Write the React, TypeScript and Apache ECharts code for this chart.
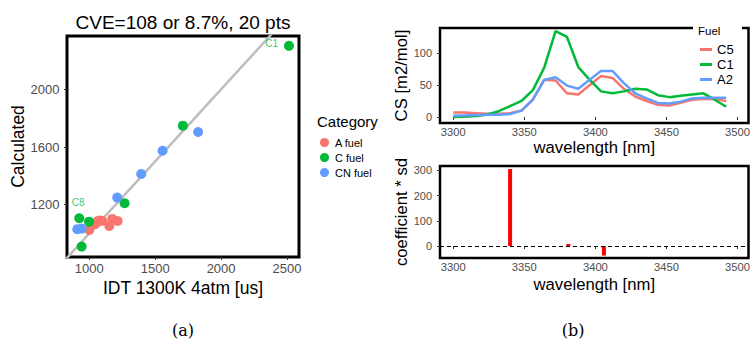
import React, { useEffect, useRef } from "react";
import * as echarts from "echarts";

// (a) scatter: [IDT measured, calculated]
const aFuel: number[][] = [
  [1000, 1025], [1045, 1065], [1062, 1085], [1080, 1090],
  [1098, 1088], [1152, 1052], [1174, 1101], [1215, 1087],
];
const cFuel: number[][] = [
  [2515, 2302], [1710, 1748], [1268, 1210], [924, 1106], [998, 1082], [942, 909],
];
const cnFuel: number[][] = [
  [1826, 1704], [1556, 1574], [1394, 1413], [1212, 1249], [909, 1030], [942, 1034],
];
const pointLabels = [
  { name: "C1", value: [2384, 2321] },
  { name: "C8", value: [915, 1215] },
];
const diagonal: number[][] = [[700, 700], [2700, 2700]];

// (b) top: cross sections
const wavelengths = [
  3300, 3308, 3316, 3324, 3332, 3340, 3348, 3356, 3364, 3372, 3380, 3388, 3396,
  3404, 3412, 3420, 3428, 3436, 3444, 3452, 3460, 3468, 3476, 3484, 3492,
];
const c5 = [7, 7, 6, 5, 5, 6, 10, 27, 58, 57, 37, 35, 50, 64, 61, 44, 32, 25, 19, 18, 22, 27, 28, 28, 25];
const c1 = [0, 0.5, 1.5, 4, 9, 17, 25, 42, 77, 134, 125, 78, 58, 40, 37, 40, 44, 43, 34, 31, 33, 35, 37, 27, 16];
const a2 = [2, 2.5, 3, 3.5, 3.5, 4.5, 10, 27, 58, 62, 49, 44, 58, 72, 72, 53, 37, 29, 22, 21, 24, 29, 30, 30, 30];

// (b) bottom: coefficients
const coefWavelengths = [3340, 3381, 3406];
const coefValues = [305, 8, -38];

const xTicksA = [1000, 1500, 2000, 2500];
const yTicksA = [1200, 1600, 2000];
const xTicksB = [3300, 3350, 3400, 3450, 3500];
const yTicksTop = [0, 50, 100];
const yTicksBottom = [0, 100, 200, 300];

const FONT = "'Liberation Sans', Arial, sans-serif";
const RED = "#F8766D";
const GREEN = "#00BA38";
const BLUE = "#619CFF";

function App() {
  const ref = useRef<HTMLDivElement>(null);
  useEffect(() => {
    document.body.style.margin = "0";
    const chart = echarts.init(ref.current!, undefined, { renderer: "svg" });
    const zip = (xs: number[], ys: number[]) => xs.map((x, i) => [x, ys[i]]);
    const valAxis = (grid: number, min: number, max: number, ticks: number[], name: string, opts: any) => ({
      type: "value",
      gridIndex: grid,
      min,
      max,
      name,
      nameLocation: "middle",
      nameGap: opts.nameGap,
      nameTextStyle: { fontFamily: FONT, fontSize: opts.nameSize, color: "#000", fontWeight: "normal" },
      axisLine: { show: false },
      splitLine: { show: false },
      axisTick: { show: true, length: 3, customValues: ticks, lineStyle: { color: "#333", width: 1 } },
      axisLabel: {
        customValues: ticks,
        formatter: (v: number) => String(v),
        fontFamily: FONT,
        fontSize: opts.labelSize,
        color: "#4D4D4D",
        margin: opts.margin,
      },
    });
    chart.setOption({
      animation: false,
      textStyle: { fontFamily: FONT },
      grid: [
        { left: 67, top: 36, width: 232, height: 221, show: true, borderColor: "#000", borderWidth: 3, backgroundColor: "transparent" },
        { left: 440, top: 28, width: 311, height: 95, show: true, borderColor: "#000", borderWidth: 2.5, backgroundColor: "transparent" },
        { left: 440, top: 166, width: 311, height: 92, show: true, borderColor: "#000", borderWidth: 2.5, backgroundColor: "transparent" },
      ],
      xAxis: [
        valAxis(0, 831, 2591, xTicksA, "IDT 1300K 4atm [us]", { nameGap: 15, nameSize: 17.5, labelSize: 13, margin: 4.5 }),
        valAxis(1, 3290.7, 3507.7, xTicksB, "wavelength [nm]", { nameGap: 16, nameSize: 16.7, labelSize: 11.2, margin: 3.5 }),
        valAxis(2, 3290.7, 3507.7, xTicksB, "wavelength [nm]", { nameGap: 18, nameSize: 16.7, labelSize: 11.2, margin: 3.5 }),
      ],
      yAxis: [
        valAxis(0, 837, 2370, yTicksA, "Calculated", { nameGap: 38, nameSize: 17.5, labelSize: 13, margin: 7.5 }),
        valAxis(1, -9.4, 139, yTicksTop, "CS [m2/mol]", { nameGap: 29, nameSize: 16.7, labelSize: 11, margin: 8 }),
        valAxis(2, -47.6, 317, yTicksBottom, "coefficient * sd", { nameGap: 29, nameSize: 16.7, labelSize: 11, margin: 8 }),
      ],
      legend: [
        {
          data: ["A fuel", "C fuel", "CN fuel"],
          orient: "vertical",
          left: 320,
          top: 137,
          padding: 0,
          icon: "circle",
          itemWidth: 9,
          itemHeight: 9,
          itemGap: 4,
          itemStyle: { opacity: 1 },
          textStyle: { fontFamily: FONT, fontSize: 11, color: "#000", padding: [0, 0, 0, 1] },
        },
        {
          data: ["C5", "C1", "A2"],
          orient: "vertical",
          left: 700,
          top: 43,
          padding: 0,
          icon: "rect",
          itemWidth: 12,
          itemHeight: 3,
          itemGap: 2,
          z: 20,
          textStyle: { fontFamily: FONT, fontSize: 13, color: "#000" },
        },
      ],
      graphic: [
        { type: "rect", z: 15, shape: { x: 693, y: 20, width: 49, height: 72 }, style: { fill: "#fff" } },
        { type: "text", z: 20, x: 698, y: 31, style: { text: "Fuel", fontFamily: FONT, fontSize: 11.5, fill: "#000", verticalAlign: "middle" } },
        { type: "text", x: 317, y: 121, style: { text: "Category", fontFamily: FONT, fontSize: 15, fill: "#000", verticalAlign: "middle" } },
        { type: "text", x: 183, y: 22, style: { text: "CVE=108 or 8.7%, 20 pts", fontFamily: FONT, fontSize: 19, fill: "#000", align: "center", verticalAlign: "middle" } },
        { type: "text", x: 183, y: 330, style: { text: "(a)", fontFamily: "'DejaVu Serif', serif", fontSize: 16, fill: "#000", align: "center", verticalAlign: "middle" } },
        { type: "text", x: 573, y: 330, style: { text: "(b)", fontFamily: "'DejaVu Serif', serif", fontSize: 16, fill: "#000", align: "center", verticalAlign: "middle" } },
      ],
      series: [
        {
          type: "line",
          name: "diag",
          xAxisIndex: 0,
          yAxisIndex: 0,
          data: diagonal,
          showSymbol: false,
          symbol: "none",
          lineStyle: { color: "#BEBEBE", width: 2.5 },
          z: 1,
          clip: true,
        },
        { type: "scatter", name: "A fuel", xAxisIndex: 0, yAxisIndex: 0, data: aFuel, symbolSize: 10, itemStyle: { color: RED, opacity: 1 }, z: 3 },
        { type: "scatter", name: "C fuel", xAxisIndex: 0, yAxisIndex: 0, data: cFuel, symbolSize: 10, itemStyle: { color: GREEN, opacity: 1 }, z: 3 },
        { type: "scatter", name: "CN fuel", xAxisIndex: 0, yAxisIndex: 0, data: cnFuel, symbolSize: 10, itemStyle: { color: BLUE, opacity: 1 }, z: 3 },
        {
          type: "scatter",
          name: "labels",
          xAxisIndex: 0,
          yAxisIndex: 0,
          data: pointLabels,
          symbolSize: 1,
          itemStyle: { color: "transparent" },
          label: { show: true, formatter: "{b}", position: "inside", color: GREEN, fontSize: 10, fontFamily: FONT },
          z: 4,
        },
        { type: "line", name: "C5", xAxisIndex: 1, yAxisIndex: 1, data: zip(wavelengths, c5), showSymbol: false, symbol: "none", itemStyle: { color: RED }, lineStyle: { color: RED, width: 2.5 } },
        { type: "line", name: "C1", xAxisIndex: 1, yAxisIndex: 1, data: zip(wavelengths, c1), showSymbol: false, symbol: "none", itemStyle: { color: GREEN }, lineStyle: { color: GREEN, width: 2.5 } },
        { type: "line", name: "A2", xAxisIndex: 1, yAxisIndex: 1, data: zip(wavelengths, a2), showSymbol: false, symbol: "none", itemStyle: { color: BLUE }, lineStyle: { color: BLUE, width: 2.5 } },
        {
          type: "bar",
          name: "coef",
          xAxisIndex: 2,
          yAxisIndex: 2,
          data: zip(coefWavelengths, coefValues),
          barWidth: 4,
          itemStyle: { color: "#FF0000" },
          markLine: {
            silent: true,
            symbol: "none",
            label: { show: false },
            lineStyle: { color: "#000", type: [4, 3], width: 1 },
            data: [{ yAxis: 0 }],
          },
        },
      ],
    });
    return () => chart.dispose();
  }, []);
  return <div ref={ref} style={{ width: 753, height: 347 }} />;
}

export default App;
